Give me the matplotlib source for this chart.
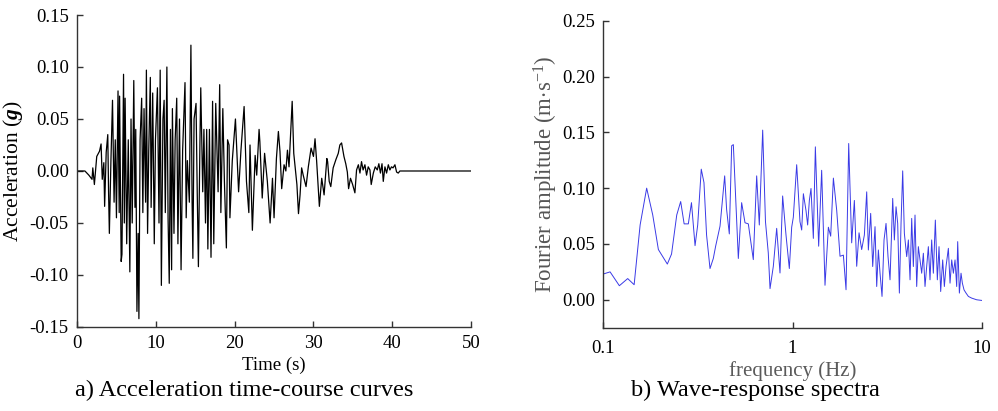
import numpy as np
import matplotlib
matplotlib.use("Agg")
import matplotlib.pyplot as plt
from matplotlib.ticker import FixedLocator, FixedFormatter

plt.rcParams['font.family'] = ['Liberation Serif', 'DejaVu Serif']
plt.rcParams['mathtext.fontset'] = 'custom'
plt.rcParams['mathtext.rm'] = 'Liberation Serif'
plt.rcParams['mathtext.it'] = 'Liberation Serif:italic'
plt.rcParams['mathtext.bf'] = 'Liberation Serif:italic:bold'
plt.rcParams['axes.unicode_minus'] = False

# a) acceleration time history (s, g)
time_s = [0.0, 1.0, 1.5, 1.9, 2.0, 2.2, 2.5, 2.85, 3.05, 3.2, 3.4, 3.5, 3.7, 3.9, 4.0, 4.1,
          4.3, 4.5, 4.7, 4.85, 5.0, 5.2, 5.35, 5.4, 5.6, 5.7, 5.9, 6.0, 6.1, 6.3, 6.5, 6.7,
          6.85, 7.0, 7.2, 7.35, 7.45, 7.6, 7.75, 7.85, 8.0, 8.2, 8.35, 8.5, 8.7, 8.8, 8.95,
          9.1, 9.3, 9.4, 9.6, 9.8, 9.95, 10.2, 10.4, 10.55, 10.7, 10.9, 11.05, 11.2, 11.4,
          11.55, 11.7, 11.85, 12.0, 12.1, 12.3, 12.45, 12.65, 12.8, 13.0, 13.2, 13.4, 13.7,
          13.85, 14.0, 14.25, 14.45, 14.6, 14.7, 14.85, 15.1, 15.25, 15.4, 15.6, 15.7, 15.95,
          16.1, 16.3, 16.45, 16.6, 16.8, 17.0, 17.2, 17.35, 17.6, 17.9, 18.1, 18.25, 18.5,
          18.7, 18.95, 19.1, 19.29, 19.4, 19.7, 20.1, 20.5, 20.8, 21.2, 21.5, 21.8, 21.95,
          22.25, 22.6, 22.8, 23.1, 23.2, 23.5, 23.8, 24.15, 24.5, 24.8, 25.0, 25.3, 25.55,
          25.75, 25.97, 26.27, 26.5, 26.7, 26.9, 27.1, 27.3, 27.5, 27.9, 28.1, 28.3, 28.5,
          28.7, 29.06, 29.35, 29.7, 30.0, 30.2, 30.4, 30.75, 31.05, 31.35, 31.7, 31.8, 32.0,
          32.2, 32.5, 32.85, 33.15, 33.35, 33.57, 33.87, 34.1, 34.3, 34.46, 34.7, 34.97,
          35.26, 35.47, 35.7, 35.9, 36.1, 36.3, 36.53, 36.74, 36.95, 37.17, 37.33, 37.6,
          37.84, 38.1, 38.3, 38.5, 38.7, 38.86, 39.07, 39.28, 39.5, 39.7, 39.9, 40.1, 40.34,
          40.55, 40.76, 40.97, 50.0]
accel_g = [0.0, 0.0, -0.004, -0.008, 0.003, -0.013, 0.014, 0.019, 0.026, -0.008, 0.008, -0.034,
           0.018, 0.035, -0.02, -0.06, 0.01, 0.068, -0.03, 0.03, -0.045, 0.077, -0.04, 0.072,
           -0.087, -0.08, 0.093, -0.05, 0.07, -0.07, 0.03, -0.097, 0.05, -0.05, 0.087, -0.035,
           0.04, -0.135, -0.06, -0.142, 0.03, 0.07, -0.04, 0.06, -0.03, 0.097, -0.06, 0.02,
           0.09, -0.035, 0.075, -0.07, 0.03, 0.08, -0.05, 0.097, -0.11, 0.05, 0.068, -0.04,
           0.1, -0.045, -0.108, 0.04, -0.095, 0.06, -0.06, 0.03, 0.07, -0.07, 0.05, -0.095,
           0.02, 0.085, -0.045, 0.01, -0.03, 0.121, -0.03, -0.084, 0.05, 0.065, -0.02, -0.092,
           0.03, 0.08, -0.02, 0.04, -0.05, 0.04, -0.075, 0.04, -0.083, 0.067, -0.07, 0.065,
           -0.02, 0.083, -0.04, 0.06, -0.01, -0.074, 0.03, 0.025, -0.045, 0.01, 0.05, -0.02,
           0.02, 0.062, -0.01, -0.04, 0.025, -0.057, 0.015, -0.004, 0.04, 0.028, -0.026, 0.017,
           -0.01, -0.05, -0.007, -0.045, 0.012, 0.038, 0.019, -0.017, 0.006, 0.0, 0.02, 0.004,
           0.035, 0.067, 0.017, -0.013, -0.041, -0.023, 0.003, -0.004, -0.015, 0.004, 0.022,
           0.014, 0.031, 0.01, -0.034, -0.007, -0.023, 0.012, 0.009, -0.01, -0.015, 0.003,
           0.011, 0.017, 0.025, 0.027, 0.014, 0.007, -0.001, -0.017, -0.007, -0.013, -0.021,
           0.001, 0.006, -0.002, 0.009, 0.001, 0.006, -0.004, 0.004, 0.001, -0.013, -0.002,
           0.004, 0.001, 0.007, -0.002, 0.007, -0.01, 0.004, -0.002, 0.006, 0.001, 0.004,
           0.003, 0.006, -0.001, -0.002, 0.0, 0.0]

# b) Fourier amplitude spectrum (Hz, m/s)
freq_hz = [0.1, 0.109, 0.122, 0.135, 0.146, 0.157, 0.170, 0.183, 0.196, 0.2185, 0.230, 0.245,
           0.257, 0.268, 0.282, 0.293, 0.306, 0.316, 0.330, 0.341, 0.352, 0.367, 0.382, 0.393,
           0.4145, 0.4386, 0.449, 0.464, 0.4775, 0.4873, 0.5177, 0.539, 0.5615, 0.5846, 0.621,
           0.647, 0.668, 0.696, 0.72, 0.745, 0.761, 0.792, 0.825, 0.859, 0.887, 0.924, 0.962,
           0.990, 1.010, 1.052, 1.095, 1.118, 1.141, 1.178, 1.202, 1.227, 1.252, 1.288, 1.320,
           1.374, 1.425, 1.484, 1.546, 1.590, 1.643, 1.711, 1.781, 1.855, 1.916, 1.979, 2.052,
           2.120, 2.181, 2.244, 2.317, 2.394, 2.463, 2.513, 2.585, 2.649, 2.725, 2.781, 2.838,
           2.896, 2.967, 3.040, 3.115, 3.191, 3.270, 3.378, 3.447, 3.518, 3.589, 3.663, 3.738,
           3.814, 3.892, 4.004, 4.086, 4.170, 4.255, 4.341, 4.430, 4.521, 4.613, 4.708, 4.804,
           4.902, 5.002, 5.105, 5.209, 5.315, 5.424, 5.535, 5.671, 5.810, 5.930, 6.051, 6.200,
           6.327, 6.457, 6.643, 6.779, 6.918, 7.059, 7.203, 7.350, 7.440, 7.593, 7.748, 7.874,
           8.035, 8.234, 8.472, 8.819, 9.374, 10.0]
fourier_amp = [0.023, 0.025, 0.0126, 0.019, 0.0135, 0.067, 0.100, 0.076, 0.045, 0.032, 0.041,
               0.076, 0.088, 0.068, 0.068, 0.087, 0.0485, 0.067, 0.117, 0.105, 0.058, 0.028,
               0.037, 0.048, 0.066, 0.111, 0.081, 0.059, 0.138, 0.139, 0.037, 0.087, 0.069,
               0.068, 0.036, 0.111, 0.067, 0.152, 0.070, 0.042, 0.010, 0.030, 0.064, 0.024,
               0.093, 0.058, 0.028, 0.065, 0.074, 0.121, 0.070, 0.0625, 0.095, 0.080, 0.067,
               0.089, 0.0997, 0.055, 0.137, 0.048, 0.116, 0.013, 0.065, 0.057, 0.109, 0.080,
               0.039, 0.040, 0.009, 0.140, 0.051, 0.089, 0.030, 0.060, 0.045, 0.058, 0.0967,
               0.0446, 0.0774, 0.0298, 0.0655, 0.0119, 0.0446, 0.0238, 0.003, 0.0536, 0.0684,
               0.0387, 0.0179, 0.0908, 0.0536, 0.0833, 0.0684, 0.006, 0.0684, 0.1155, 0.0595,
               0.0387, 0.0536, 0.0179, 0.0729, 0.0298, 0.0759, 0.0119, 0.0476, 0.0357, 0.0238,
               0.0417, 0.0119, 0.0298, 0.0476, 0.0179, 0.0536, 0.0238, 0.0714, 0.0179, 0.0476,
               0.0074, 0.0357, 0.0119, 0.0298, 0.0461, 0.0149, 0.0357, 0.0238, 0.0357, 0.0119,
               0.0521, 0.006, 0.0238, 0.0149, 0.0089, 0.006, 0.003, 0.0015, 0.0, -0.0006]

fig = plt.figure(figsize=(9.98, 4.11), dpi=100)
ax1 = fig.add_axes([0.0772, 0.2044, 0.3948, 0.7591])
ax2 = fig.add_axes([0.6042, 0.2027, 0.3798, 0.7469])

for ax in (ax1, ax2):
    ax.spines['top'].set_visible(False)
    ax.spines['right'].set_visible(False)
    for s in ('left', 'bottom'):
        ax.spines[s].set_color('#333333')
        ax.spines[s].set_linewidth(1.0)
    ax.tick_params(direction='in', length=4, width=1.0, color='#333333',
                   labelsize=13.5, pad=6)

ax1.plot(time_s, accel_g, color='black', lw=0.9)
ax1.set_xlim(0, 50)
ax1.set_ylim(-0.15, 0.15)
ax1.set_xticks([0, 10, 20, 30, 40, 50])
ax1.set_yticks(np.arange(-0.15, 0.151, 0.05))
ax1.yaxis.set_major_formatter(plt.FormatStrFormatter('%.2f'))
ax1.set_xlabel('Time (s)', fontsize=13.5, labelpad=3)
ax1.set_ylabel(r'Acceleration ($\mathbf{g}$)', fontsize=15.5, labelpad=3)

ax2.plot(freq_hz, fourier_amp, color='#3a3ae6', lw=0.7)
ax2.set_xscale('log')
ax2.set_xlim(0.1, 10)
ax2.set_ylim(-0.025, 0.25)
ax2.xaxis.set_major_locator(FixedLocator([0.1, 1, 10]))
ax2.xaxis.set_major_formatter(FixedFormatter(['0.1', '1', '10']))
ax2.xaxis.set_minor_locator(FixedLocator([]))
ax2.tick_params(axis='x', pad=9)
ax2.set_yticks([0.0, 0.05, 0.10, 0.15, 0.20, 0.25])
ax2.yaxis.set_major_formatter(plt.FormatStrFormatter('%.2f'))
ax2.set_xlabel('frequency (Hz)', fontsize=15, color='#5a5a5a', labelpad=3)
ax2.set_ylabel(r'Fourier amplitude (m$\cdot$s$^{-1}$)', fontsize=16.5, color='#555555',
               labelpad=1)

fig.text(0.245, 0.05, 'a) Acceleration time-course curves', fontsize=17.5,
         ha='center', va='center')
fig.text(0.757, 0.05, 'b) Wave-response spectra', fontsize=17.5, ha='center', va='center')

fig.savefig('out.png', dpi=100)
